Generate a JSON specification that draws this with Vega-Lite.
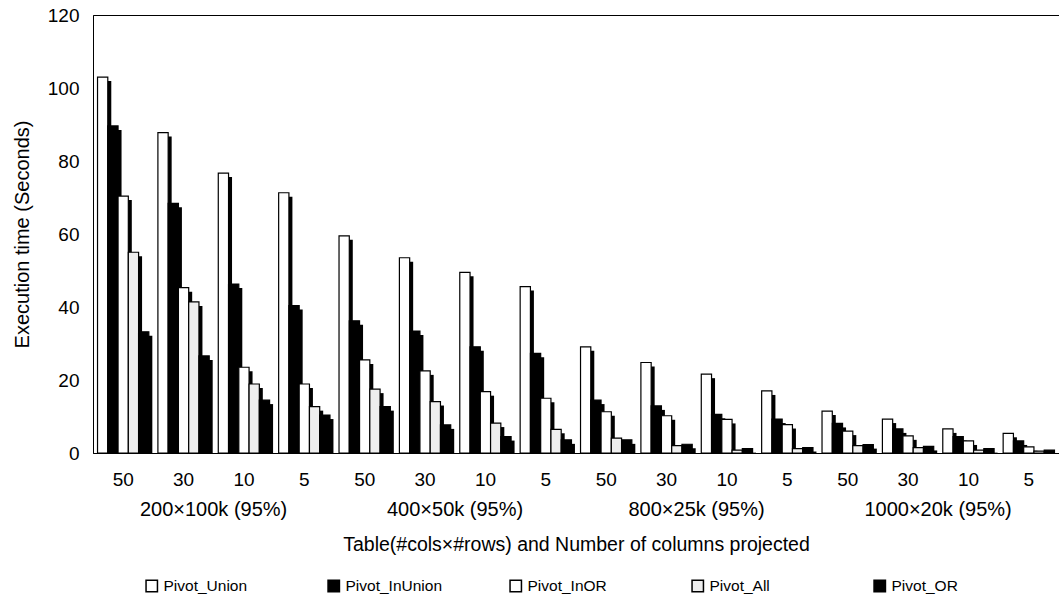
{
  "$schema": "https://vega.github.io/schema/vega-lite/v6.json",
  "autosize": {"type": "none"},
  "padding": {"left": 93, "top": 15, "right": 0, "bottom": 153},
  "width": 966,
  "height": 438,
  "background": "white",
  "config": {
    "font": "Liberation Sans",
    "view": {"stroke": "black", "strokeWidth": 1},
    "axis": {"labelColor": "black", "titleColor": "black", "domainColor": "black", "titleFontWeight": "normal"},
    "legend": {"labelColor": "black"}
  },
  "data": {"values": [
    {"table": "200×100k (95%)", "cols": "50", "series": "Pivot_Union", "time": 103},
    {"table": "200×100k (95%)", "cols": "50", "series": "Pivot_InUnion", "time": 89.6},
    {"table": "200×100k (95%)", "cols": "50", "series": "Pivot_InOR", "time": 70.4},
    {"table": "200×100k (95%)", "cols": "50", "series": "Pivot_All", "time": 55},
    {"table": "200×100k (95%)", "cols": "50", "series": "Pivot_OR", "time": 33.2},
    {"table": "200×100k (95%)", "cols": "30", "series": "Pivot_Union", "time": 87.8},
    {"table": "200×100k (95%)", "cols": "30", "series": "Pivot_InUnion", "time": 68.4},
    {"table": "200×100k (95%)", "cols": "30", "series": "Pivot_InOR", "time": 45.3},
    {"table": "200×100k (95%)", "cols": "30", "series": "Pivot_All", "time": 41.4},
    {"table": "200×100k (95%)", "cols": "30", "series": "Pivot_OR", "time": 26.6},
    {"table": "200×100k (95%)", "cols": "10", "series": "Pivot_Union", "time": 76.7},
    {"table": "200×100k (95%)", "cols": "10", "series": "Pivot_InUnion", "time": 46.3},
    {"table": "200×100k (95%)", "cols": "10", "series": "Pivot_InOR", "time": 23.5},
    {"table": "200×100k (95%)", "cols": "10", "series": "Pivot_All", "time": 18.9},
    {"table": "200×100k (95%)", "cols": "10", "series": "Pivot_OR", "time": 14.5},
    {"table": "200×100k (95%)", "cols": "5", "series": "Pivot_Union", "time": 71.3},
    {"table": "200×100k (95%)", "cols": "5", "series": "Pivot_InUnion", "time": 40.4},
    {"table": "200×100k (95%)", "cols": "5", "series": "Pivot_InOR", "time": 18.9},
    {"table": "200×100k (95%)", "cols": "5", "series": "Pivot_All", "time": 12.7},
    {"table": "200×100k (95%)", "cols": "5", "series": "Pivot_OR", "time": 10.4},
    {"table": "400×50k (95%)", "cols": "50", "series": "Pivot_Union", "time": 59.5},
    {"table": "400×50k (95%)", "cols": "50", "series": "Pivot_InUnion", "time": 36.2},
    {"table": "400×50k (95%)", "cols": "50", "series": "Pivot_InOR", "time": 25.5},
    {"table": "400×50k (95%)", "cols": "50", "series": "Pivot_All", "time": 17.5},
    {"table": "400×50k (95%)", "cols": "50", "series": "Pivot_OR", "time": 12.7},
    {"table": "400×50k (95%)", "cols": "30", "series": "Pivot_Union", "time": 53.5},
    {"table": "400×50k (95%)", "cols": "30", "series": "Pivot_InUnion", "time": 33.4},
    {"table": "400×50k (95%)", "cols": "30", "series": "Pivot_InOR", "time": 22.5},
    {"table": "400×50k (95%)", "cols": "30", "series": "Pivot_All", "time": 14.1},
    {"table": "400×50k (95%)", "cols": "30", "series": "Pivot_OR", "time": 7.7},
    {"table": "400×50k (95%)", "cols": "10", "series": "Pivot_Union", "time": 49.5},
    {"table": "400×50k (95%)", "cols": "10", "series": "Pivot_InUnion", "time": 29.1},
    {"table": "400×50k (95%)", "cols": "10", "series": "Pivot_InOR", "time": 16.8},
    {"table": "400×50k (95%)", "cols": "10", "series": "Pivot_All", "time": 8.2},
    {"table": "400×50k (95%)", "cols": "10", "series": "Pivot_OR", "time": 4.5},
    {"table": "400×50k (95%)", "cols": "5", "series": "Pivot_Union", "time": 45.6},
    {"table": "400×50k (95%)", "cols": "5", "series": "Pivot_InUnion", "time": 27.3},
    {"table": "400×50k (95%)", "cols": "5", "series": "Pivot_InOR", "time": 15.0},
    {"table": "400×50k (95%)", "cols": "5", "series": "Pivot_All", "time": 6.5},
    {"table": "400×50k (95%)", "cols": "5", "series": "Pivot_OR", "time": 3.6},
    {"table": "800×25k (95%)", "cols": "50", "series": "Pivot_Union", "time": 29.1},
    {"table": "800×25k (95%)", "cols": "50", "series": "Pivot_InUnion", "time": 14.5},
    {"table": "800×25k (95%)", "cols": "50", "series": "Pivot_InOR", "time": 11.3},
    {"table": "800×25k (95%)", "cols": "50", "series": "Pivot_All", "time": 4.1},
    {"table": "800×25k (95%)", "cols": "50", "series": "Pivot_OR", "time": 3.6},
    {"table": "800×25k (95%)", "cols": "30", "series": "Pivot_Union", "time": 24.8},
    {"table": "800×25k (95%)", "cols": "30", "series": "Pivot_InUnion", "time": 12.9},
    {"table": "800×25k (95%)", "cols": "30", "series": "Pivot_InOR", "time": 10.2},
    {"table": "800×25k (95%)", "cols": "30", "series": "Pivot_All", "time": 2.0},
    {"table": "800×25k (95%)", "cols": "30", "series": "Pivot_OR", "time": 2.4},
    {"table": "800×25k (95%)", "cols": "10", "series": "Pivot_Union", "time": 21.6},
    {"table": "800×25k (95%)", "cols": "10", "series": "Pivot_InUnion", "time": 10.6},
    {"table": "800×25k (95%)", "cols": "10", "series": "Pivot_InOR", "time": 9.2},
    {"table": "800×25k (95%)", "cols": "10", "series": "Pivot_All", "time": 0.8},
    {"table": "800×25k (95%)", "cols": "10", "series": "Pivot_OR", "time": 1.2},
    {"table": "800×25k (95%)", "cols": "5", "series": "Pivot_Union", "time": 17.0},
    {"table": "800×25k (95%)", "cols": "5", "series": "Pivot_InUnion", "time": 9.3},
    {"table": "800×25k (95%)", "cols": "5", "series": "Pivot_InOR", "time": 7.8},
    {"table": "800×25k (95%)", "cols": "5", "series": "Pivot_All", "time": 1.2},
    {"table": "800×25k (95%)", "cols": "5", "series": "Pivot_OR", "time": 1.5},
    {"table": "1000×20k (95%)", "cols": "50", "series": "Pivot_Union", "time": 11.5},
    {"table": "1000×20k (95%)", "cols": "50", "series": "Pivot_InUnion", "time": 8.1},
    {"table": "1000×20k (95%)", "cols": "50", "series": "Pivot_InOR", "time": 6.0},
    {"table": "1000×20k (95%)", "cols": "50", "series": "Pivot_All", "time": 2.0},
    {"table": "1000×20k (95%)", "cols": "50", "series": "Pivot_OR", "time": 2.3},
    {"table": "1000×20k (95%)", "cols": "30", "series": "Pivot_Union", "time": 9.3},
    {"table": "1000×20k (95%)", "cols": "30", "series": "Pivot_InUnion", "time": 6.6},
    {"table": "1000×20k (95%)", "cols": "30", "series": "Pivot_InOR", "time": 4.7},
    {"table": "1000×20k (95%)", "cols": "30", "series": "Pivot_All", "time": 1.5},
    {"table": "1000×20k (95%)", "cols": "30", "series": "Pivot_OR", "time": 1.8},
    {"table": "1000×20k (95%)", "cols": "10", "series": "Pivot_Union", "time": 6.6},
    {"table": "1000×20k (95%)", "cols": "10", "series": "Pivot_InUnion", "time": 4.5},
    {"table": "1000×20k (95%)", "cols": "10", "series": "Pivot_InOR", "time": 3.3},
    {"table": "1000×20k (95%)", "cols": "10", "series": "Pivot_All", "time": 0.8},
    {"table": "1000×20k (95%)", "cols": "10", "series": "Pivot_OR", "time": 1.2},
    {"table": "1000×20k (95%)", "cols": "5", "series": "Pivot_Union", "time": 5.4},
    {"table": "1000×20k (95%)", "cols": "5", "series": "Pivot_InUnion", "time": 3.3},
    {"table": "1000×20k (95%)", "cols": "5", "series": "Pivot_InOR", "time": 1.7},
    {"table": "1000×20k (95%)", "cols": "5", "series": "Pivot_All", "time": 0.5},
    {"table": "1000×20k (95%)", "cols": "5", "series": "Pivot_OR", "time": 0.8}
  ]},
  "transform": [{"calculate": "datum.table + '|' + datum.cols", "as": "group"}],
  "layer": [
    {
      "mark": {"type": "bar", "color": "black", "yOffset": 4, "clip": true},
      "encoding": {
        "x": {"field": "group", "type": "nominal", "sort": null,
          "scale": {"paddingInner": 0.15, "paddingOuter": 0.075},
          "axis": {"orient": "bottom", "labelExpr": "split(datum.value, '|')[1] == '30' ? split(datum.value, '|')[0] : ''",
            "labelAngle": 0, "labelFontSize": 20, "labelPadding": 46, "labelOffset": 30, "ticks": false, "domain": false,
            "labelOverlap": false, "labelBound": false,
            "title": "Table(#cols×#rows) and Number of columns projected", "titleFontSize": 19.5, "titlePadding": 16}},
        "xOffset": {"field": "series", "type": "nominal",
          "sort": ["Pivot_Union", "Pivot_InUnion", "Pivot_InOR", "Pivot_All", "Pivot_OR"],
          "scale": {"range": [3.5, 54.8]}},
        "y": {"field": "time", "type": "quantitative",
          "scale": {"domain": [0, 120]},
          "axis": {"values": [0, 20, 40, 60, 80, 100, 120], "grid": false, "ticks": false,
            "labelFontSize": 19, "labelPadding": 14, "title": "Execution time (Seconds)",
            "titleFontSize": 20, "titlePadding": 15}}
      }
    },
    {
      "mark": {"type": "bar", "stroke": "black", "strokeWidth": 1.2, "clip": true},
      "encoding": {
        "x": {"field": "group", "type": "nominal", "sort": null,
          "axis": {"orient": "bottom", "labelExpr": "split(datum.value, '|')[1]", "labelAngle": 0, "labelFontSize": 19,
            "labelPadding": 17, "ticks": false, "domain": true, "labelOverlap": false, "title": null}},
        "xOffset": {"field": "series", "type": "nominal",
          "sort": ["Pivot_Union", "Pivot_InUnion", "Pivot_InOR", "Pivot_All", "Pivot_OR"],
          "scale": {"paddingInner": 0, "paddingOuter": 0}},
        "y": {"field": "time", "type": "quantitative"},
        "fill": {"field": "series", "type": "nominal",
          "sort": ["Pivot_Union", "Pivot_InUnion", "Pivot_InOR", "Pivot_All", "Pivot_OR"],
          "scale": {"domain": ["Pivot_Union", "Pivot_InUnion", "Pivot_InOR", "Pivot_All", "Pivot_OR"],
            "range": ["#ffffff", "#000000", "#ffffff", "#eeeeee", "#000000"]},
          "legend": {"orient": "none", "legendX": 51, "legendY": 563, "direction": "horizontal", "title": null,
            "columns": 5, "gridAlign": "all", "columnPadding": 64,
            "symbolType": "square", "symbolSize": 130, "symbolStrokeColor": "black", "symbolStrokeWidth": 1.5,
            "labelFontSize": 15.5, "labelLimit": 200}}
      }
    }
  ],
  "resolve": {"scale": {"xOffset": "independent"}, "axis": {"x": "independent"}}
}
